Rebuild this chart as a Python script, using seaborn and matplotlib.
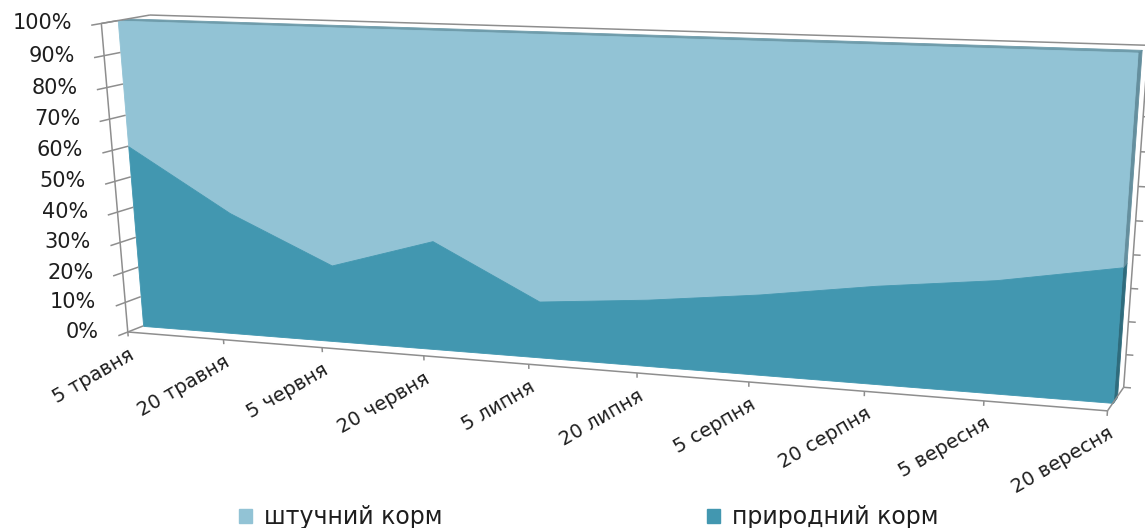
import numpy as np
import matplotlib
matplotlib.use('Agg')
import matplotlib.pyplot as plt
import matplotlib.transforms as mtransforms
from matplotlib.patches import Patch
import seaborn as sns

#### Data ####

dates = ['5 травня', '20 травня', '5 червня', '20 червня', '5 липня',
         '20 липня', '5 серпня', '20 серпня', '5 вересня', '20 вересня']
natural = [60, 40, 25, 35, 18, 21, 25, 30, 34, 40]        # природний корм, %
artificial = [40, 60, 75, 65, 82, 79, 75, 70, 66, 60]     # штучний корм, %
value_ticks = [0, 10, 20, 30, 40, 50, 60, 70, 80, 90, 100]
series_names = ['штучний корм', 'природний корм']

light = '#92c3d5'
dark = '#4297b0'
light_top = '#6f9cab'
light_side = '#658f9e'
dark_side = '#2f6c7d'
grid_grey = '#8e8e8e'
text_col = '#1e1e1e'

#### 3-D view (Excel-like perspective) ####

# (category index, depth 0=front..1=back, value %) -> pixel anchors of the frame
anchors_3d = np.array([[0, 0, 100], [0, 0, 0], [9, 0, 0],
                       [0, 1, 100], [9, 1, 100], [9, 1, 0],
                       [0, .33, 100], [0, .33, 0], [9, .33, 0], [9, .33, 100]], float)
anchors_px = np.array([[102, 23], [128, 332], [1105, 412],
                       [150, 15], [1145, 46], [1126, 387],
                       [117, 21], [143, 326], [1113, 402], [1141, 52]], float)
D0, D1 = 0.33, 0.58   # depth of the area block
n = len(dates)


def fit_camera(X, x):
    rows = []
    for (a, b, c), (u, w) in zip(X, x):
        P = [a / (n - 1), b, c / 100, 1]
        rows.append(P + [0] * 4 + [-u / 1000 * p for p in P])
        rows.append([0] * 4 + P + [-w / 1000 * p for p in P])
    _, _, vt = np.linalg.svd(np.array(rows))
    return vt[-1].reshape(3, 4)


CAM = fit_camera(anchors_3d, anchors_px)


def project(i, d, v):
    X = np.vstack([i / (n - 1), d, v / 100, np.ones_like(i)])
    p = CAM @ X
    return (p[:2] / p[2]).T * 1000


class Plane(mtransforms.Transform):
    """2-D coordinates on one plane of the 3-D box -> pixels."""
    input_dims = output_dims = 2
    is_separable = False

    def __init__(self, fixed, value):
        super().__init__()
        self.fixed, self.value = fixed, value

    def transform_non_affine(self, values):
        a, b = np.asarray(values, float).reshape(-1, 2).T
        c = np.full_like(a, self.value)
        if self.fixed == 'd':      # (category, value)
            return project(a, c, b)
        if self.fixed == 'v':      # (category, depth)
            return project(a, b, c)
        return project(c, a, b)    # fixed category: (depth, value)


sns.set_theme(style='white')
plt.rcParams['font.family'] = ['DejaVu Sans']

fig = plt.figure(figsize=(11.45, 5.28), dpi=100)
ax = fig.add_axes([0, 0, 1, 1])
ax.set_xlim(0, 1145)
ax.set_ylim(528, 0)
ax.axis('off')


def plane(fixed, value):
    return Plane(fixed, value) + ax.transData


idx = np.arange(n)
nat = np.array(natural, float)
total = nat + np.array(artificial, float)
line_kw = dict(color=grid_grey, lw=1.1, solid_capstyle='butt')

# walls / floor edges
ax.plot([0, n - 1], [100, 100], transform=plane('d', 1), **line_kw)
ax.plot([0, 1], [100, 100], transform=plane('i', 0), **line_kw)
ax.plot([1, 1], [0, 100], transform=plane('i', n - 1), **line_kw)
ax.plot([0, 1], [0, 0], transform=plane('i', n - 1), **line_kw)
for v in value_ticks:
    ax.plot([n - 1, n - 0.94], [v, v], transform=plane('d', 1), **line_kw)
    ax.plot([-0.2, D0], [v, v], transform=plane('i', 0), **line_kw)

# area block: top and side faces first, front faces on top
face_kw = dict(lw=0.6)
ax.fill_between(idx, D0, D1, transform=plane('v', 100), color=light_top, **face_kw)
ax.fill_between([D0, D1], 0, nat[-1], transform=plane('i', n - 1), color=dark_side, **face_kw)
ax.fill_between([D0, D1], nat[-1], total[-1], transform=plane('i', n - 1), color=light_side, **face_kw)
ax.fill_between(idx, nat, total, transform=plane('d', D0), color=light, **face_kw)
ax.fill_between(idx, 0, nat, transform=plane('d', D0), color=dark, **face_kw)

# value axis and category axis
ax.plot([0, 0], [0, 100], transform=plane('d', 0), **line_kw)
ax.plot([0, n - 1], [0, 0], transform=plane('d', 0), **line_kw)
for i in idx:
    ax.plot([i, i], [0, -1.5], transform=plane('d', 0), **line_kw)

val_tr = mtransforms.offset_copy(plane('d', 0), fig=fig, x=-29, y=0, units='dots')
for v in value_ticks:
    ax.text(0, v, f'{v}%', transform=val_tr, ha='right', va='center',
            fontsize=15, color=text_col)

cat_tr = mtransforms.offset_copy(plane('d', 0), fig=fig, x=0, y=-13, units='dots')
for i, lab in zip(idx, dates):
    ax.text(i, 0, lab, transform=cat_tr, ha='right', va='top', rotation=30,
            rotation_mode='anchor', fontsize=14, color=text_col)

handles = [Patch(color=light, label=series_names[0]),
           Patch(color=dark, label=series_names[1])]
leg = fig.legend(handles=handles, loc='center', bbox_to_anchor=(0.514, 11 / 528),
                 ncol=2, frameon=False, fontsize=17, handlelength=0.55,
                 handleheight=0.55, handletextpad=0.5, columnspacing=11.2)
for t in leg.get_texts():
    t.set_color(text_col)

fig.savefig('out.png', dpi=100)
